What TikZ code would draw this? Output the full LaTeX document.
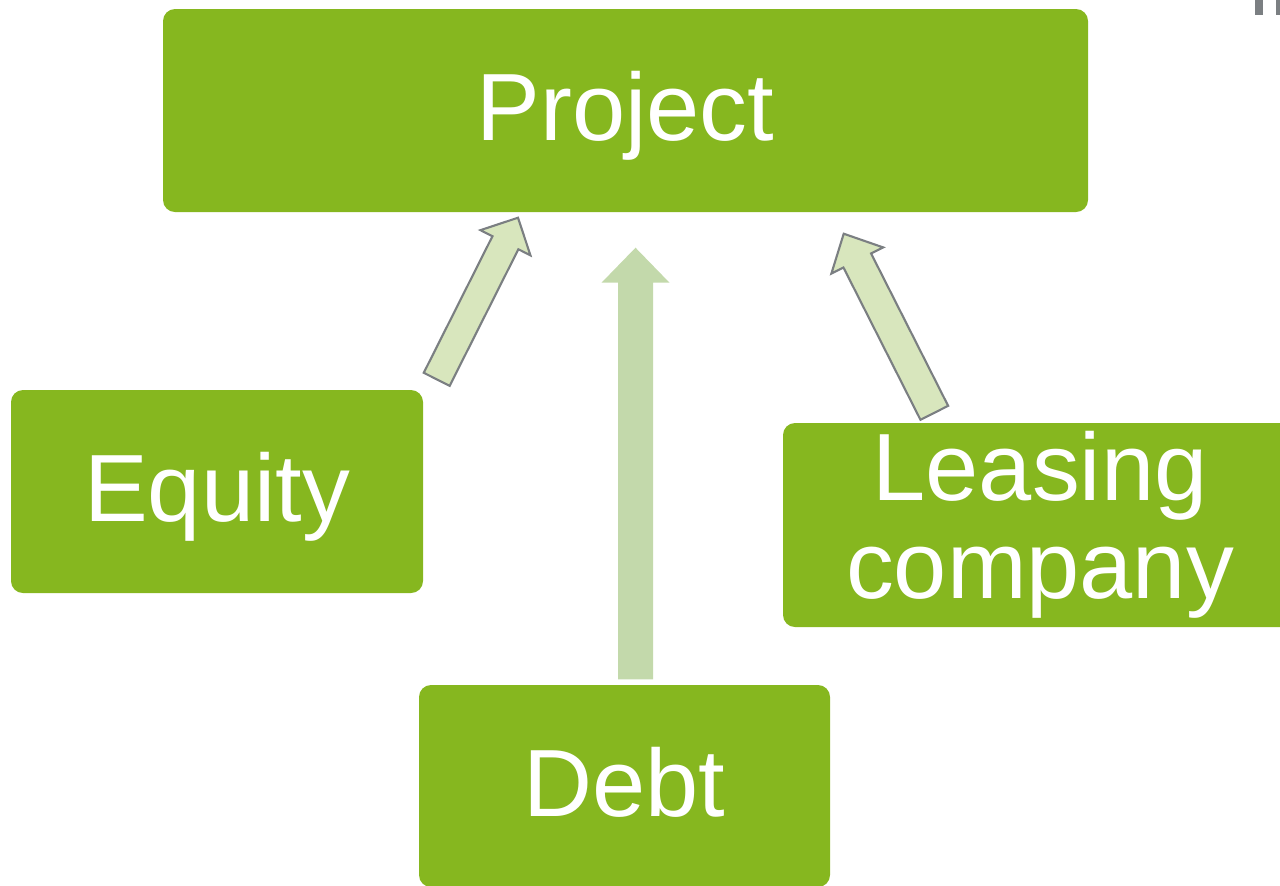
\documentclass[tikz,border=0pt]{standalone}
\usepackage{fontspec}
\setmainfont{Liberation Sans}
\usetikzlibrary{calc}
\definecolor{my green}{HTML}{86B71F}
\definecolor{my light}{HTML}{D8E6BD}
\definecolor{my pale}{HTML}{C3D9AB}
\definecolor{my grey}{HTML}{7B7F82}

% block arrow: style, tail, tip, half shaft, half head, head length
\newcommand{\blockarrow}[6]{%
  \coordinate (ba-neck) at ($(#3)!#6!(#2)$);
  \path[#1] ($(#2)!#4!90:(#3)$) -- ($(ba-neck)!#4!-90:(#2)$)
    -- ($(ba-neck)!#5!-90:(#2)$) -- (#3) -- ($(ba-neck)!#5!90:(#2)$)
    -- ($(ba-neck)!#4!90:(#2)$) -- ($(#2)!#4!-90:(#3)$) -- cycle;
}

\tikzset{
  box/.style={fill=my green, rounded corners=0.12cm, inner sep=0pt, text=white,
    align=center, font=\fontsize{27.2}{27.9}\selectfont},
  oneline/.style={box, text height=22.8pt, text depth=5.6pt},
  outlined/.style={fill=my light, draw=my grey, line width=0.6pt, line join=miter},
  plain/.style={fill=my pale}
}

\begin{document}
\begin{tikzpicture}
  \useasboundingbox (0,0) rectangle (12.8,-8.85);
  \fill [my grey] (12.55,0) rectangle (12.63,-0.15);
  \fill [my grey] (12.76,0) rectangle (12.82,-0.15);

  \node [oneline, minimum width=9.25cm, minimum height=2.03cm] (project) at (6.255,-1.105) {Project};
  \node [oneline, minimum width=4.12cm, minimum height=2.03cm] (equity) at (2.17,-4.915) {Equity};
  \node [box, minimum width=5.14cm, minimum height=2.04cm] (leasing) at (10.40,-5.25) {Leasing\\company};
  \node [oneline, minimum width=4.11cm, minimum height=2.02cm] (debt) at (6.245,-7.86) {Debt};

  \coordinate (eq-tail) at ($(equity.north east)+(0.13,0.10)$);
  \coordinate (eq-tip) at ($(project.south)+(-1.075,-0.05)$);
  \coordinate (debt-tail) at ($(debt.north)+(0.11,0.05)$);
  \coordinate (debt-tip) at ($(project.south)+(0.10,-0.35)$);
  \coordinate (lease-tail) at ($(leasing.north west)+(1.52,0.095)$);
  \coordinate (lease-tip) at ($(project.south east)+(-2.45,-0.21)$);

  \blockarrow{outlined}{eq-tail}{eq-tip}{0.145cm}{0.28cm}{0.28cm}
  \blockarrow{plain}{debt-tail}{debt-tip}{0.175cm}{0.34cm}{0.35cm}
  \blockarrow{outlined}{lease-tail}{lease-tip}{0.155cm}{0.29cm}{0.30cm}
\end{tikzpicture}
\end{document}
